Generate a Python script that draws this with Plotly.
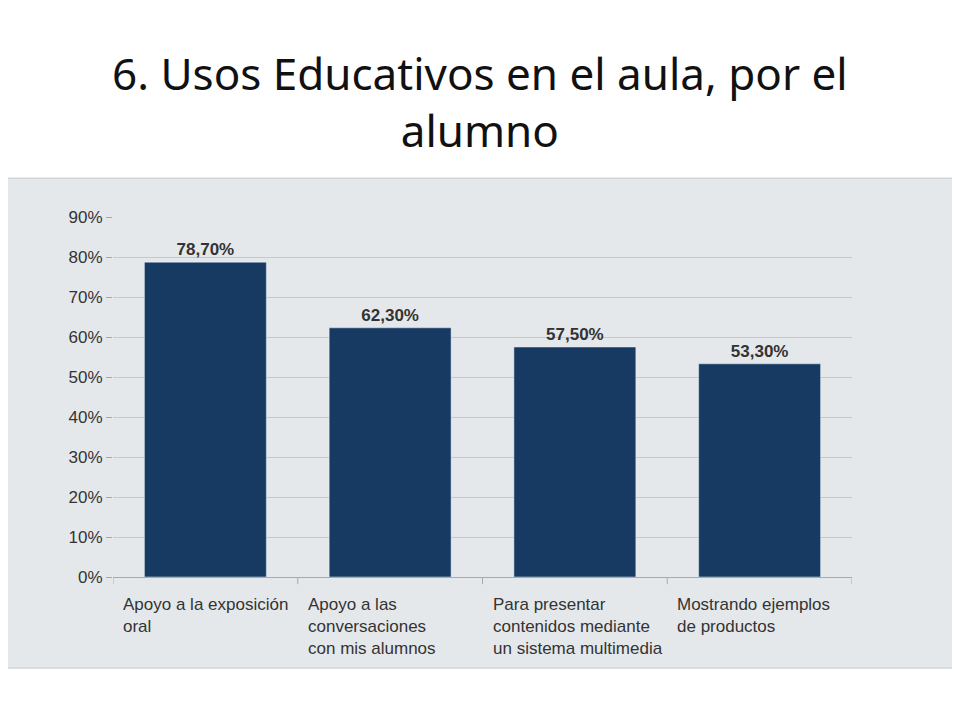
import plotly.graph_objects as go

categories = ["Apoyo a la exposición<br>oral",
              "Apoyo a las<br>conversaciones<br>con mis alumnos",
              "Para presentar<br>contenidos mediante<br>un sistema multimedia",
              "Mostrando ejemplos<br>de productos"]
values = [78.7, 62.3, 57.5, 53.3]
value_labels = ["<b>78,70%</b>", "<b>62,30%</b>", "<b>57,50%</b>", "<b>53,30%</b>"]
yticks = [0, 10, 20, 30, 40, 50, 60, 70, 80, 90]

xs = list(range(len(categories)))
fig = go.Figure(go.Bar(
    x=xs, y=values, width=0.66, marker_color="#173a63",
    text=value_labels, textposition="outside", cliponaxis=False,
    textfont=dict(family="Liberation Sans", size=17, color="#333333"),
))

# grey panel behind chart
shapes = [dict(type="rect", xref="paper", yref="paper", x0=-0.17, x1=1.17,
               y0=-0.253, y1=1.108, fillcolor="#e5e8eb",
               line=dict(color="#c8c8c8", width=1), layer="below")]
for b in [-0.5, 0.5, 1.5, 2.5, 3.5]:
    shapes.append(dict(type="line", xref="x", yref="paper", x0=b, x1=b,
                       y0=0, y1=-0.02, line=dict(color="#aaaaaa", width=1)))

annotations = [dict(text="6. Usos Educativos en el aula, por el<br>alumno",
                    xref="paper", yref="paper", x=(480 - 113) / 739, y=1.49,
                    yanchor="top", showarrow=False,
                    font=dict(family="Noto Sans", size=44, color="#111111"))]
for i, c in enumerate(categories):
    annotations.append(dict(text=c, xref="x", yref="paper", x=i - 0.5, xshift=8,
                            y=-0.045, xanchor="left", yanchor="top", align="left",
                            showarrow=False,
                            font=dict(family="Liberation Sans", size=17, color="#333333")))

fig.update_layout(
    width=960, height=720, paper_bgcolor="white", plot_bgcolor="#e5e8eb",
    margin=dict(l=105, r=116, t=209, b=151), showlegend=False,
    shapes=shapes, annotations=annotations,
    xaxis=dict(range=[-0.5, 3.5], showticklabels=False, showgrid=False,
               zeroline=False, showline=True, linecolor="#aaaaaa"),
    yaxis=dict(range=[0, 90], tickvals=yticks, ticktext=[f"{v}%" for v in yticks],
               gridcolor="#c5c8cc", zeroline=False, ticks="outside", ticklen=6,
               tickcolor="#aaaaaa", tickfont=dict(family="Liberation Sans", size=17, color="#333333")),
)
fig.write_html("out.html")
